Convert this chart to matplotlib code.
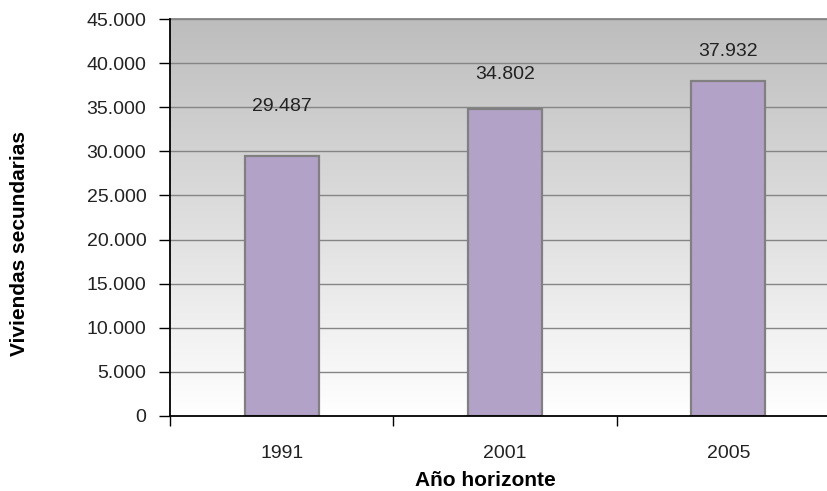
import matplotlib
matplotlib.use("Agg")
import matplotlib.pyplot as plt
import numpy as np
from matplotlib.ticker import FuncFormatter, MultipleLocator
from matplotlib.colors import LinearSegmentedColormap

# Data
years = ["1991", "2001", "2005"]
viviendas = [29487, 34802, 37932]

# Vertical lift (pixels) of each value label above its bar
label_lift_px = [49, 34, 30]

plt.rcParams["font.family"] = ["Liberation Sans", "DejaVu Sans"]

fig = plt.figure(figsize=(8.27, 4.91), dpi=100)
fig.patch.set_facecolor("white")
ax = fig.add_axes([170 / 827, 1 - 416 / 491, 670 / 827, 397 / 491])

ymax = 45000
ax.set_ylim(0, ymax)
ax.set_xlim(-0.5, len(years) - 0.5)

# Grey-to-white linear gradient background
cmap = LinearSegmentedColormap.from_list("bg", ["#ffffff", "#bdbdbd"])
grad = np.linspace(0, 1, 256).reshape(-1, 1)
ax.imshow(grad, cmap=cmap, aspect="auto", origin="lower",
          extent=[-0.5, len(years) - 0.5, 0, ymax], zorder=0)

# Gridlines
for v in range(5000, ymax + 1, 5000):
    ax.axhline(v, color="#858585", lw=1.0, zorder=1)

x = np.arange(len(years))
ax.bar(x, viviendas, width=0.33, color="#b3a2c7", edgecolor="#808080",
       linewidth=1.6, zorder=2)

def fmt(v):
    return f"{int(round(v)):,}".replace(",", ".")

num_size = 14
for xi, v, lift in zip(x, viviendas, label_lift_px):
    ax.annotate(fmt(v), (xi, v), xytext=(0, lift * 0.72), textcoords="offset points",
                ha="center", va="center", fontsize=num_size, color="#222222", zorder=3)

ax.yaxis.set_major_locator(MultipleLocator(5000))
ax.yaxis.set_major_formatter(FuncFormatter(lambda v, p: fmt(v)))
ax.set_xticks([-0.5, 0.5, 1.5, 2.5])
ax.set_xticklabels([])
for xi, lab in zip(x, years):
    ax.text(xi, -37 / 397, lab, transform=ax.get_xaxis_transform(),
            ha="center", va="center", fontsize=num_size, color="#222222")

ax.tick_params(axis="y", direction="out", length=8, width=1, colors="black",
               labelcolor="#222222", labelsize=num_size, pad=9)
ax.tick_params(axis="x", direction="out", length=7, width=1, colors="black")

for s in ["left", "bottom"]:
    ax.spines[s].set_color("black")
    ax.spines[s].set_linewidth(1.3)
    ax.spines[s].set_zorder(4)
ax.spines["top"].set_color("#858585")
ax.spines["top"].set_linewidth(1.3)
ax.spines["right"].set_visible(False)

fig.text(485 / 827, 1 - 480 / 491, "Año horizonte", ha="center", va="center",
         fontsize=15, fontweight="bold", color="black")
fig.text(20 / 827, 1 - 244 / 491, "Viviendas secundarias", rotation=90, ha="center",
         va="center", fontsize=15, fontweight="bold", color="black")

fig.savefig("out.png", dpi=100)
